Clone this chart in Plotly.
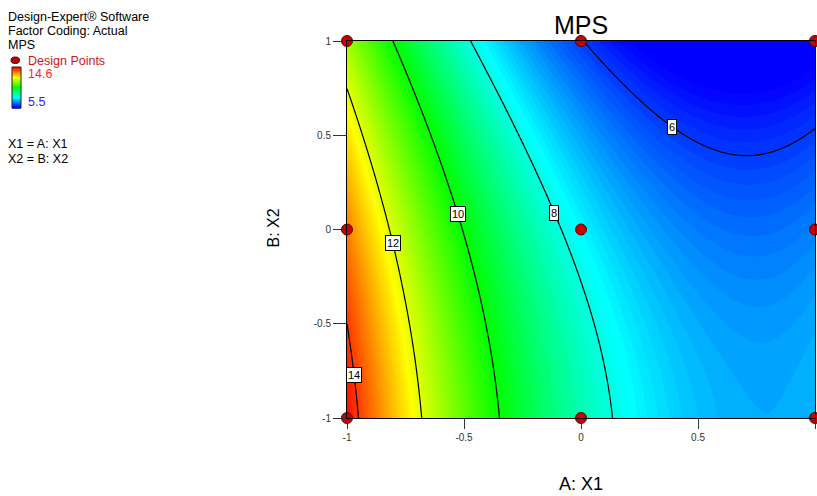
import numpy as np
import plotly.graph_objects as go
from plotly.colors import sample_colorscale

# ---- data ----
# Quadratic response-surface model for MPS (coded factors X1, X2):
# terms: intercept, X1, X2, X1*X2, X1^2, X2^2
model_terms = ["Intercept", "X1", "X2", "X1X2", "X1^2", "X2^2"]
model_coefs = [7.70, -3.37, -1.21, 0.28, 2.30, -0.46]

design_x1 = [-1, -1, -1, 0, 0, 0, 1, 1, 1]
design_x2 = [-1, 0, 1, -1, 0, 1, -1, 0, 1]

contour_levels = [6, 8, 10, 12, 14]
label_x2 = [0.544, 0.088, 0.082, -0.072, -0.772]   # where each contour label sits (B: X2)

tick_vals = [-1, -0.5, 0, 0.5, 1]
tick_text = ["-1", "-0.5", "0", "0.5", "1"]
z_min, z_max = 5.5, 14.6

# ---- figure geometry ----
W, H = 817, 496
ML, MR, MT, MB = 347, 2, 41, 78
PW, PH = W - ML - MR, H - MT - MB
FONT = "Liberation Sans, Arial, sans-serif"


def model(x1, x2):
    b = model_coefs
    return b[0] + b[1]*x1 + b[2]*x2 + b[3]*x1*x2 + b[4]*x1**2 + b[5]*x2**2


def solve_x1(level, x2):
    b = model_coefs
    a = b[4]
    bb = b[1] + b[3]*x2
    c = b[0] + b[2]*x2 + b[5]*x2**2 - level
    disc = bb*bb - 4*a*c
    roots = [(-bb - np.sqrt(disc))/(2*a), (-bb + np.sqrt(disc))/(2*a)]
    roots = [r for r in roots if -1 <= r <= 1]
    return roots[0]


def px(x):
    return (x - ML) / PW


def py(y):
    return (H - MB - y) / PH


g = np.linspace(-1, 1, 241)
GX, GY = np.meshgrid(g, g)
Z = model(GX, GY)

colorscale = [[0, "rgb(0,0,255)"], [0.25, "rgb(0,255,255)"], [0.5, "rgb(0,255,0)"],
              [0.75, "rgb(255,255,0)"], [1, "rgb(255,0,0)"]]

fig = go.Figure()
fig.add_trace(go.Contour(
    x=g, y=g, z=Z, colorscale=colorscale, zmin=z_min, zmax=z_max, zauto=False,
    contours=dict(start=z_min, end=z_max, size=0.1, coloring="fill", showlines=False),
    line=dict(width=0), hoverinfo="skip", showscale=False,
))
fig.add_trace(go.Contour(
    x=g, y=g, z=Z,
    contours=dict(start=min(contour_levels), end=max(contour_levels), size=2,
                  coloring="none", showlabels=False),
    line=dict(color="black", width=1.2), showscale=False, hoverinfo="skip",
))
fig.add_trace(go.Scatter(
    x=design_x1, y=design_x2, mode="markers", cliponaxis=False,
    marker=dict(size=11, color="rgb(200,0,0)", line=dict(color="rgb(90,0,0)", width=1)),
    hoverinfo="skip", showlegend=False,
))

ann = []
for lev, yy in zip(contour_levels, label_x2):
    xx = solve_x1(lev, yy)
    ann.append(dict(x=xx, y=yy, xref="x", yref="y", text=str(lev), showarrow=False,
                    font=dict(family=FONT, size=11, color="black"),
                    bgcolor="white", bordercolor="black", borderwidth=1, borderpad=1))

def txt(x, y, s, size=12.5, color="black", xanchor="left", yanchor="middle"):
    ann.append(dict(x=px(x), y=py(y), xref="paper", yref="paper", text=s, showarrow=False,
                    xanchor=xanchor, yanchor=yanchor, borderpad=0,
                    font=dict(family=FONT, size=size, color=color)))

txt(7, 17, "Design-Expert® Software")
txt(7, 31, "Factor Coding: Actual")
txt(7, 45, "MPS")
txt(27, 61, "Design Points", color="rgb(210,20,20)")
txt(27, 74, "14.6", color="rgb(255,40,40)")
txt(27, 102, "5.5", color="rgb(40,40,255)")
txt(7, 144, "X1 = A: X1")
txt(7, 159, "X2 = B: X2")
txt(581, 25, "MPS", size=25, xanchor="center")
txt(581, 495, "A: X1", size=18, xanchor="center", yanchor="bottom")
ann.append(dict(x=px(262), y=py(228), xref="paper", yref="paper", text="B: X2", showarrow=False,
                textangle=-90, font=dict(family=FONT, size=16, color="black")))

# legend marker for the design points
shapes = [dict(type="circle", xref="paper", yref="paper",
               x0=px(11), x1=px(19.5), y0=py(63.5), y1=py(57),
               fillcolor="rgb(190,0,0)", line=dict(color="rgb(90,0,0)", width=1))]
# colour key bar, drawn from the colour scale
key_top, key_bot, key_x0, key_x1 = 67, 108, 12, 21
nseg = 41
fr = np.linspace(1, 0, nseg)
cols = sample_colorscale(colorscale, list(fr))
seg_h = (key_bot - key_top) / nseg
for i, c in enumerate(cols):
    shapes.append(dict(type="rect", xref="paper", yref="paper", layer="above",
                       x0=px(key_x0), x1=px(key_x1),
                       y0=py(key_top + i*seg_h), y1=py(key_top + (i+1)*seg_h + 0.6),
                       fillcolor=c, line=dict(width=0)))
shapes.append(dict(type="rect", xref="paper", yref="paper", layer="above",
                   x0=px(key_x0), x1=px(key_x1), y0=py(key_top), y1=py(key_bot),
                   fillcolor="rgba(0,0,0,0)", line=dict(color="#222", width=1)))

axis_common = dict(range=[-1, 1], showgrid=False, zeroline=False, showline=True,
                   linecolor="black", linewidth=1, mirror=True, ticks="outside",
                   tickcolor="#333", tickfont=dict(family=FONT, size=10, color="#333"),
                   tickvals=tick_vals, ticktext=tick_text)

fig.update_layout(
    width=W, height=H, margin=dict(l=ML, r=MR, t=MT, b=MB),
    paper_bgcolor="white", plot_bgcolor="white", showlegend=False,
    xaxis=dict(**axis_common, ticklen=10),
    yaxis=dict(**axis_common, ticklen=13),
    annotations=ann, shapes=shapes,
)

fig.write_html("out.html")
